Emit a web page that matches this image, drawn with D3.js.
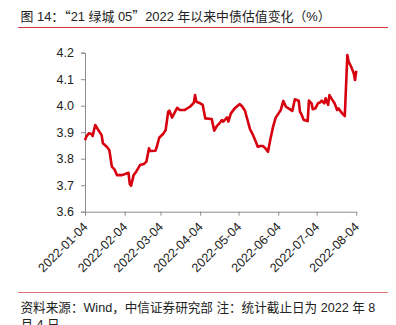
<!DOCTYPE html>
<html><head><meta charset="utf-8">
<script src="https://cdn.jsdelivr.net/npm/d3@7"></script>
<style>
html,body{margin:0;padding:0;background:#fff;}
svg{display:block;font-family:"Liberation Sans",Arial,"Noto Sans CJK SC",sans-serif;}
</style></head>
<body>
<svg id="c" width="396" height="325"></svg>
<script>
const titleParts = ["图 14：", "“", "21 绿城 05", "”", "2022 年以来中债估值变化（%）"];
const sourceLine1 = "资料来源：Wind，中信证券研究部 注：统计截止日为 2022 年 8";
const sourceLine2 = "月 4 日";
const yTicks = [3.6, 3.7, 3.8, 3.9, 4.0, 4.1, 4.2];
const xTickLabels = ["2022-01-04","2022-02-04","2022-03-04","2022-04-04","2022-05-04","2022-06-04","2022-07-04","2022-08-04"];
const dates = ["2022-01-04","2022-01-05","2022-01-07","2022-01-09","2022-01-10","2022-01-12","2022-01-14","2022-01-17","2022-01-18","2022-01-21",
"2022-01-23","2022-01-25","2022-01-27","2022-01-29","2022-02-02","2022-02-07","2022-02-08","2022-02-09","2022-02-11","2022-02-13",
"2022-02-16","2022-02-19","2022-02-21","2022-02-23","2022-02-24","2022-02-28","2022-03-01","2022-03-03","2022-03-06","2022-03-08",
"2022-03-10","2022-03-11","2022-03-13","2022-03-17","2022-03-19","2022-03-23","2022-03-27","2022-03-30","2022-03-31","2022-04-01",
"2022-04-04","2022-04-06","2022-04-08","2022-04-13","2022-04-15","2022-04-17","2022-04-19","2022-04-21","2022-04-22","2022-04-25",
"2022-04-26","2022-04-28","2022-05-01","2022-05-05","2022-05-07","2022-05-09","2022-05-13","2022-05-15","2022-05-17","2022-05-19",
"2022-05-21","2022-05-23","2022-05-25","2022-05-27","2022-05-29","2022-05-31","2022-06-02","2022-06-04","2022-06-06","2022-06-08",
"2022-06-10","2022-06-13","2022-06-15","2022-06-17","2022-06-20","2022-06-21","2022-06-22","2022-06-24","2022-06-27","2022-06-28",
"2022-06-30","2022-07-01","2022-07-03","2022-07-05","2022-07-07","2022-07-08","2022-07-10","2022-07-11","2022-07-13","2022-07-14",
"2022-07-16","2022-07-18","2022-07-20","2022-07-21","2022-07-24","2022-07-26","2022-07-28","2022-07-29","2022-07-31","2022-08-02",
"2022-08-03","2022-08-04"];
const values = [3.870,3.883,3.896,3.893,3.886,3.927,3.911,3.889,3.858,3.845,
3.833,3.770,3.760,3.738,3.738,3.747,3.704,3.698,3.738,3.751,
3.776,3.780,3.789,3.839,3.829,3.830,3.843,3.879,3.893,3.908,
3.977,3.981,3.955,3.992,3.984,3.984,3.996,4.011,4.040,4.015,
4.009,4.003,3.952,3.950,3.906,3.923,3.933,3.946,3.940,3.956,
3.940,3.971,3.990,4.006,3.996,3.981,3.911,3.892,3.870,3.845,
3.848,3.848,3.839,3.826,3.877,3.921,3.955,3.969,3.984,4.018,
3.996,3.987,3.980,4.024,4.019,3.977,3.969,3.946,3.942,4.019,
4.009,3.987,3.990,4.009,4.013,4.019,4.009,4.028,4.003,4.040,
4.024,4.009,3.984,3.990,3.971,3.961,4.191,4.166,4.147,4.122,
4.097,4.132];

const parse = d3.timeParse("%Y-%m-%d");
const data = dates.map((d,i)=>({date:parse(d), v:values[i]}));

const svg = d3.select("#c");
const L = 85, R = 356.3, T = 52.7, B = 211.7;

const x = d3.scaleTime().domain([parse(xTickLabels[0]), parse(xTickLabels[xTickLabels.length-1])]).range([L, R]);
const y = d3.scaleLinear().domain([3.6, 4.2]).range([B, T]);

// title
const tt = svg.append("text").attr("x", 20.5).attr("y", 20.5).attr("font-size", 12.9).attr("fill", "#222");
titleParts.forEach((p,i)=>{
  const s = tt.append("tspan").text(p);
  if (i === 1 || i === 3) s.attr("font-family", "Noto Sans CJK SC");
});
svg.append("line").attr("x1", 18).attr("x2", 388).attr("y1", 27.5).attr("y2", 27.5).attr("stroke", "#d9383e").attr("stroke-width", 1);

// y axis
const gy = svg.append("g").attr("transform", `translate(${L},0)`)
  .call(d3.axisLeft(y).tickValues(yTicks).tickFormat(d3.format(".1f")).tickSize(4).tickPadding(7));
gy.select(".domain").attr("stroke", "#8c8c8c");
gy.selectAll(".tick line").attr("stroke", "#8c8c8c");
gy.selectAll("text").attr("font-size", 12.5).attr("fill", "#222").attr("font-family", "Liberation Sans, Arial, sans-serif");

// x axis
const gx = svg.append("g").attr("transform", `translate(0,${B})`)
  .call(d3.axisBottom(x).tickValues(xTickLabels.map(parse)).tickFormat(d3.timeFormat("%Y-%m-%d")).tickSize(4).tickSizeOuter(0));
gx.select(".domain").attr("stroke", "#8c8c8c");
gx.selectAll(".tick line").attr("stroke", "#8c8c8c");
gx.selectAll("text").attr("font-size", 12.5).attr("fill", "#222").attr("font-family", "Liberation Sans, Arial, sans-serif")
  .attr("text-anchor", "end").attr("dy", null).attr("y", null)
  .attr("transform", "translate(3,16) rotate(-45)");

// line
svg.append("path").datum(data)
  .attr("fill", "none").attr("stroke", "#d7000f").attr("stroke-width", 2.6).attr("stroke-linejoin", "round")
  .attr("d", d3.line().x(d=>x(d.date)).y(d=>y(d.v)));

// source
svg.append("line").attr("x1", 18).attr("x2", 388).attr("y1", 292.5).attr("y2", 292.5).attr("stroke", "#e07070").attr("stroke-width", 1);
svg.append("text").attr("x", 20.5).attr("y", 312).attr("font-size", 12.6).attr("fill", "#222").text(sourceLine1);
svg.append("text").attr("x", 20.5).attr("y", 328.5).attr("font-size", 12.6).attr("fill", "#222").text(sourceLine2);
</script>
</body></html>
